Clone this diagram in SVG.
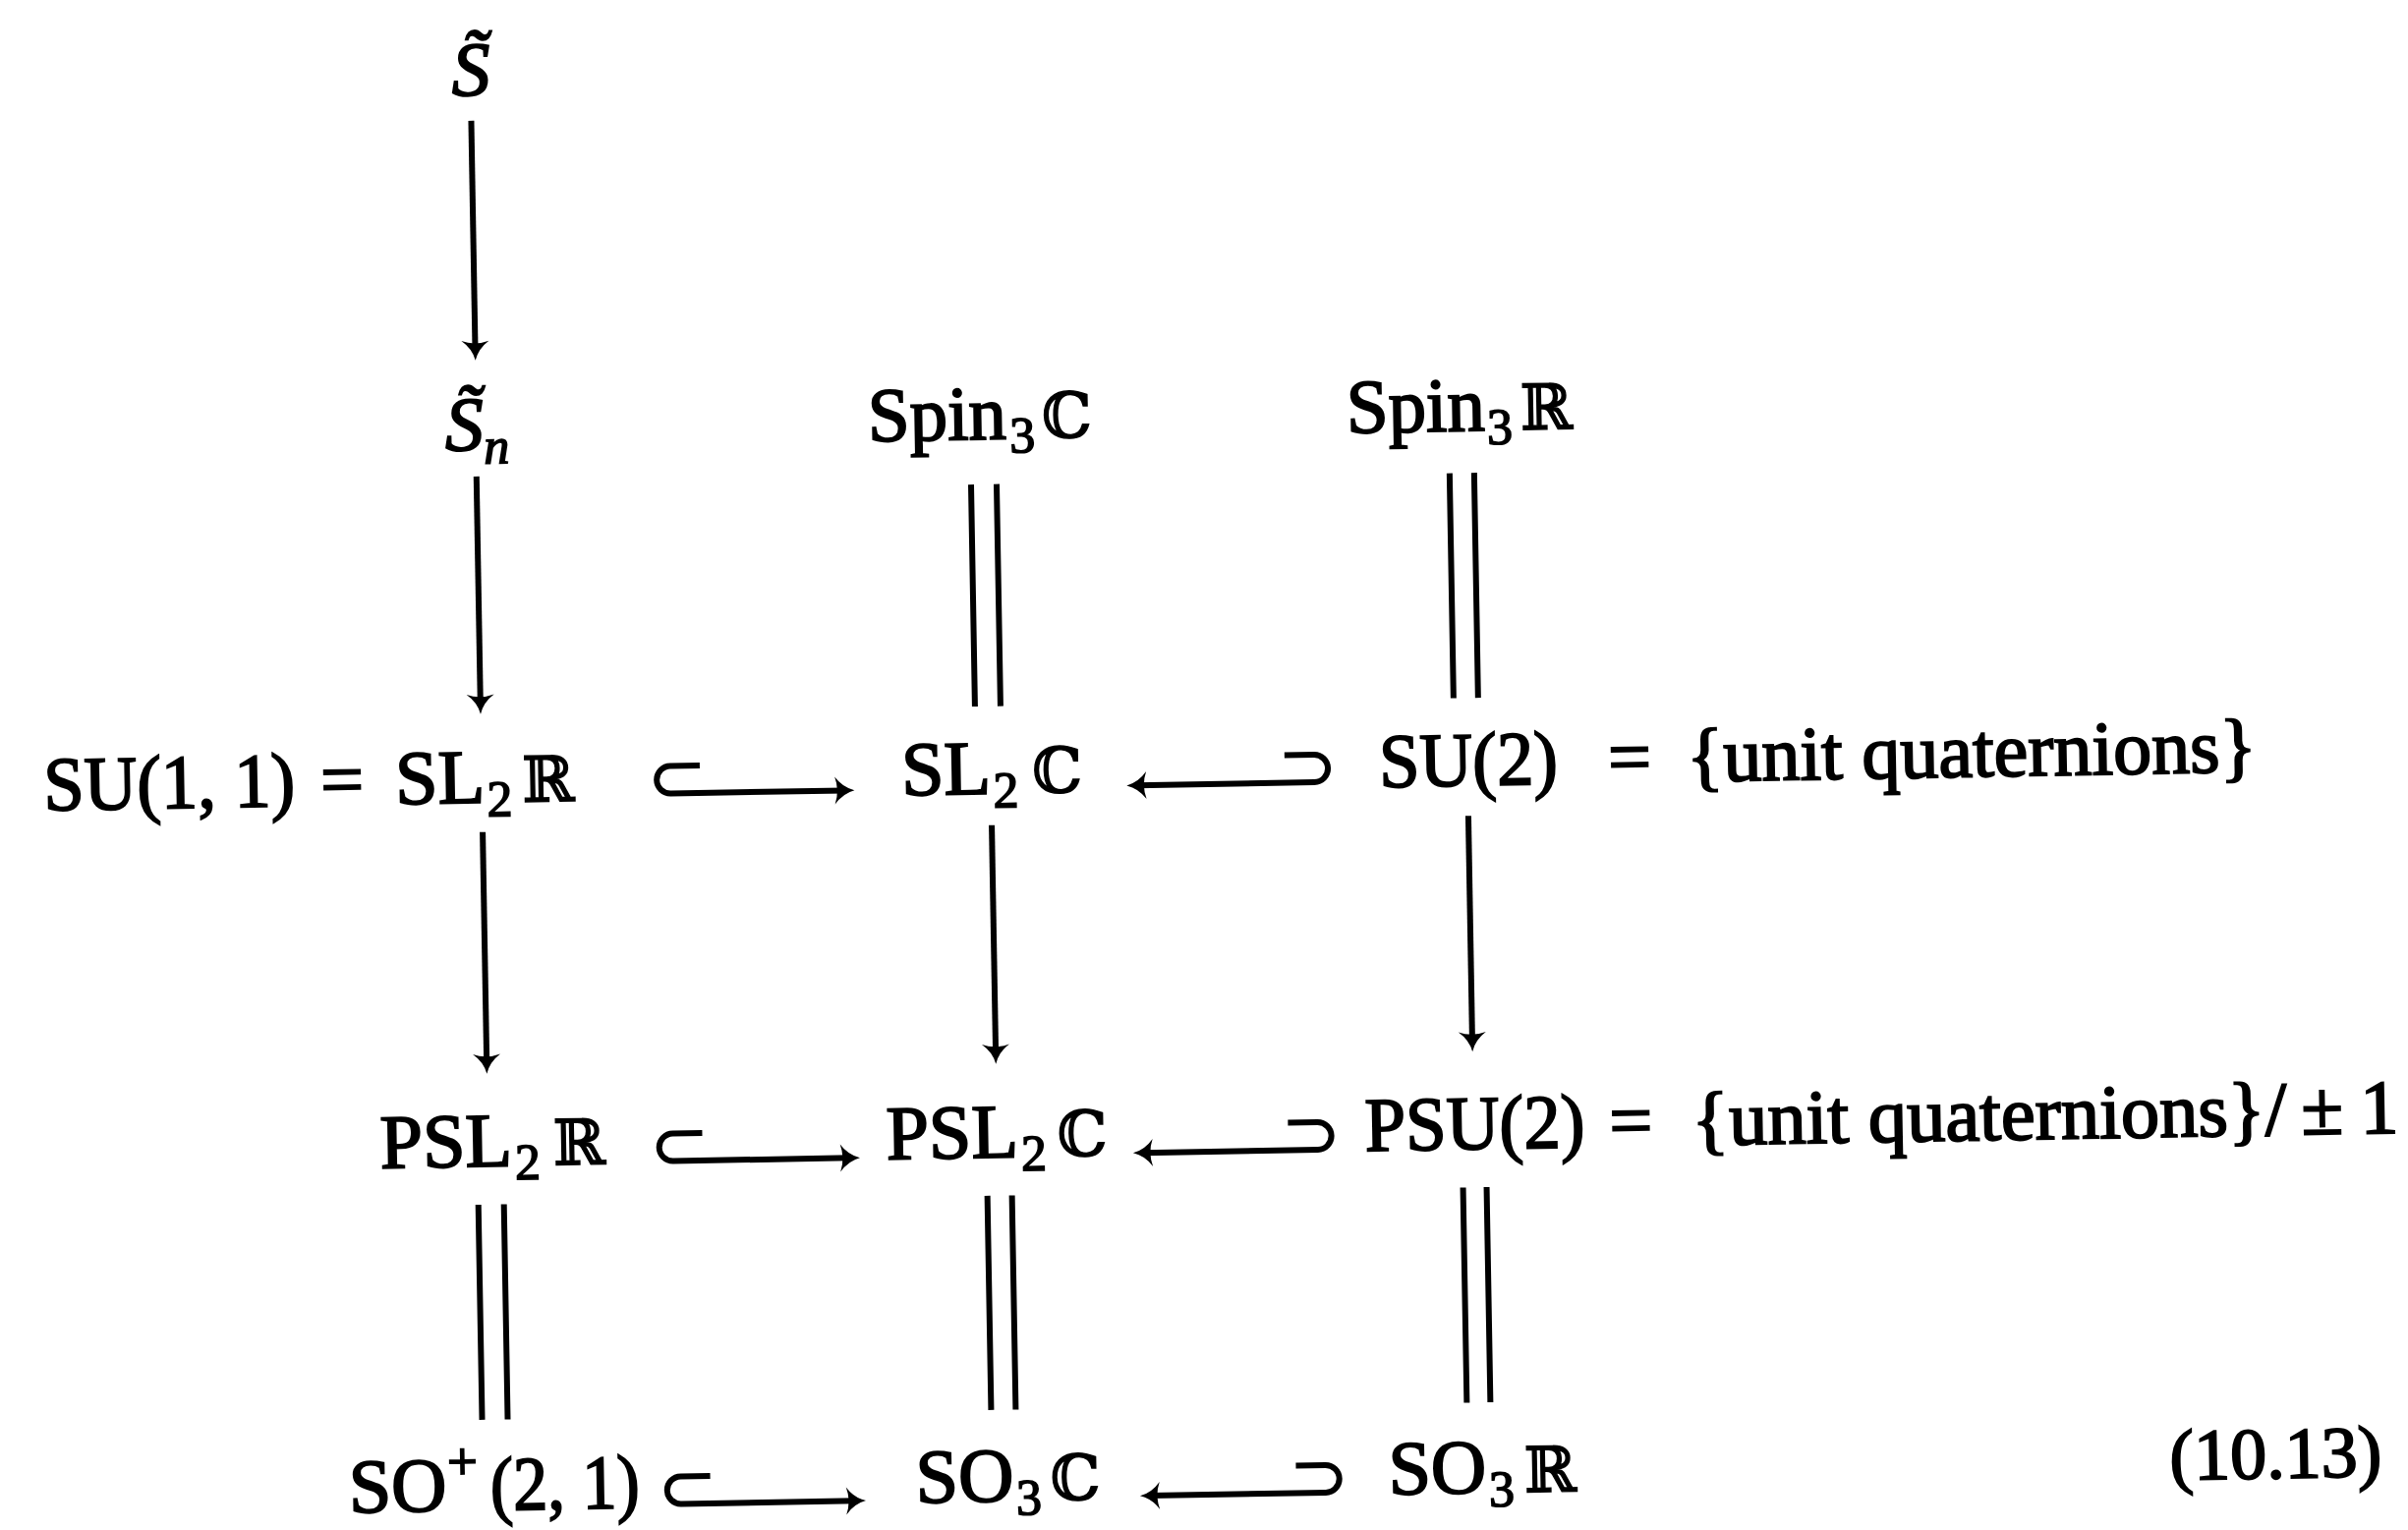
<svg xmlns="http://www.w3.org/2000/svg" width="2450" height="1557" viewBox="0 0 2450 1557">
<style>
text { font-family: "Liberation Serif", "DejaVu Serif", serif; font-size: 78px; fill: #000; stroke: #000; stroke-width: 2px; }
.sub { font-size: 52px; stroke-width: 1.6px; }
.it { font-style: italic; }
.bb { font-family: "DejaVu Serif", "DejaVu Sans", serif; font-size: 64px; stroke-width: 1.4px; }
.sup { font-size: 54px; }
.num { font-size: 74px; }
.ln { stroke: #000; stroke-width: 6; fill: none; }
.ar { stroke: #000; stroke-width: 6; fill: none; marker-end: url(#ah); }
</style>
<defs>
<marker id="ah" markerUnits="userSpaceOnUse" viewBox="-2 -16 24 32" markerWidth="24" markerHeight="32" refX="10" refY="0" orient="auto">
<path d="M0,-14 Q8,-3 20,0 Q8,3 0,14 Q5,0 0,-14Z" fill="#000"/>
</marker>
</defs>
<rect width="2450" height="1557" fill="#fff"/>
<g transform="rotate(-1 1225 778)">
<g id="connectors">
<path class="ar" d="M491 110 V344"/>
<path class="ar" d="M490 472 V704"/>
<path class="ar" d="M490 834 V1070"/>
<path class="ar" d="M1008 836 V1069"/>
<path class="ar" d="M1493 835 V1065"/>
<path class="ln" d="M993 489 V715 M1019 489 V715"/>
<path class="ln" d="M1480 486 V715 M1505 486 V715"/>
<path class="ln" d="M479 1213 V1432 M505 1213 V1432"/>
<path class="ln" d="M997 1213 V1431 M1022 1213 V1431"/>
<path class="ln" d="M1481 1213 V1432 M1505 1213 V1432"/>
<path class="ar" d="M712 770 H682 A14 14 0 0 0 682 798 H859"/>
<path class="ar" d="M708 1144 H678 A14 14 0 0 0 678 1172 H858"/>
<path class="ar" d="M710 1493 H680 A14 14 0 0 0 680 1521 H858"/>
<path class="ar" d="M1307 770 H1337 A14 14 0 0 1 1337 798 H1156"/>
<path class="ar" d="M1304 1144 H1334 A14 14 0 0 1 1334 1172 H1156"/>
<path class="ar" d="M1306 1493 H1336 A14 14 0 0 1 1336 1521 H1157"/>
</g>
<g id="n-S"><text x="472" y="84" class="it">S&#x303;</text></g>
<g id="n-Sn"><text x="459" y="445"><tspan class="it">S&#x303;</tspan><tspan class="it sub" dy="14">n</tspan></text></g>
<g id="n-Spin3C"><text x="889" y="443" textLength="141" lengthAdjust="spacingAndGlyphs">Spin</text><text class="sub" x="1033" y="457">3</text><text class="bb" x="1066" y="443">ℂ</text></g>
<g id="n-Spin3R"><text x="1376" y="443" textLength="141" lengthAdjust="spacingAndGlyphs">Spin</text><text class="sub" x="1519" y="457">3</text><text class="bb" x="1553" y="443">ℝ</text></g>
<g id="n-SL2R"><text x="44" y="804" textLength="256" lengthAdjust="spacingAndGlyphs">SU(1, 1)</text><text x="326" y="804">=</text><text x="402" y="804">SL</text><text class="sub" x="495" y="818">2</text><text class="bb" x="531" y="804">ℝ</text></g>
<g id="n-SL2C"><text x="917" y="804">SL</text><text class="sub" x="1010" y="818">2</text><text class="bb" x="1050" y="804">ℂ</text></g>
<g id="n-SU2"><text x="1403" y="804" textLength="182" lengthAdjust="spacingAndGlyphs">SU(2)</text><text x="1636" y="804">=</text><text x="1716" y="804" textLength="580" lengthAdjust="spacingAndGlyphs">{unit quaternions}</text></g>
<g id="n-PSL2R"><text x="380" y="1174">PSL</text><text class="sub" x="517" y="1188">2</text><text class="bb" x="556" y="1174">ℝ</text></g>
<g id="n-PSL2C"><text x="895" y="1174">PSL</text><text class="sub" x="1032" y="1188">2</text><text class="bb" x="1069" y="1174">ℂ</text></g>
<g id="n-PSU2"><text x="1382" y="1174" textLength="224" lengthAdjust="spacingAndGlyphs">PSU(2)</text><text x="1631" y="1174">=</text><text x="1715" y="1174" textLength="605" lengthAdjust="spacingAndGlyphs">{unit quaternions}/</text><text x="2335" y="1174">±</text><text x="2395" y="1174">1</text></g>
<g id="n-SO21"><text x="342" y="1524">SO</text><text class="sup" x="443" y="1492">+</text><text x="486" y="1524" textLength="152" lengthAdjust="spacingAndGlyphs">(2, 1)</text></g>
<g id="n-SO3C"><text x="919" y="1524">SO</text><text class="sub" x="1021" y="1538">3</text><text class="bb" x="1056" y="1524">ℂ</text></g>
<g id="n-SO3R"><text x="1400" y="1524">SO</text><text class="sub" x="1502" y="1538">3</text><text class="bb" x="1538" y="1524">ℝ</text></g>
<g id="eq-num"><text class="num" x="2195" y="1523">(10.13)</text></g>
</g>
</svg>
